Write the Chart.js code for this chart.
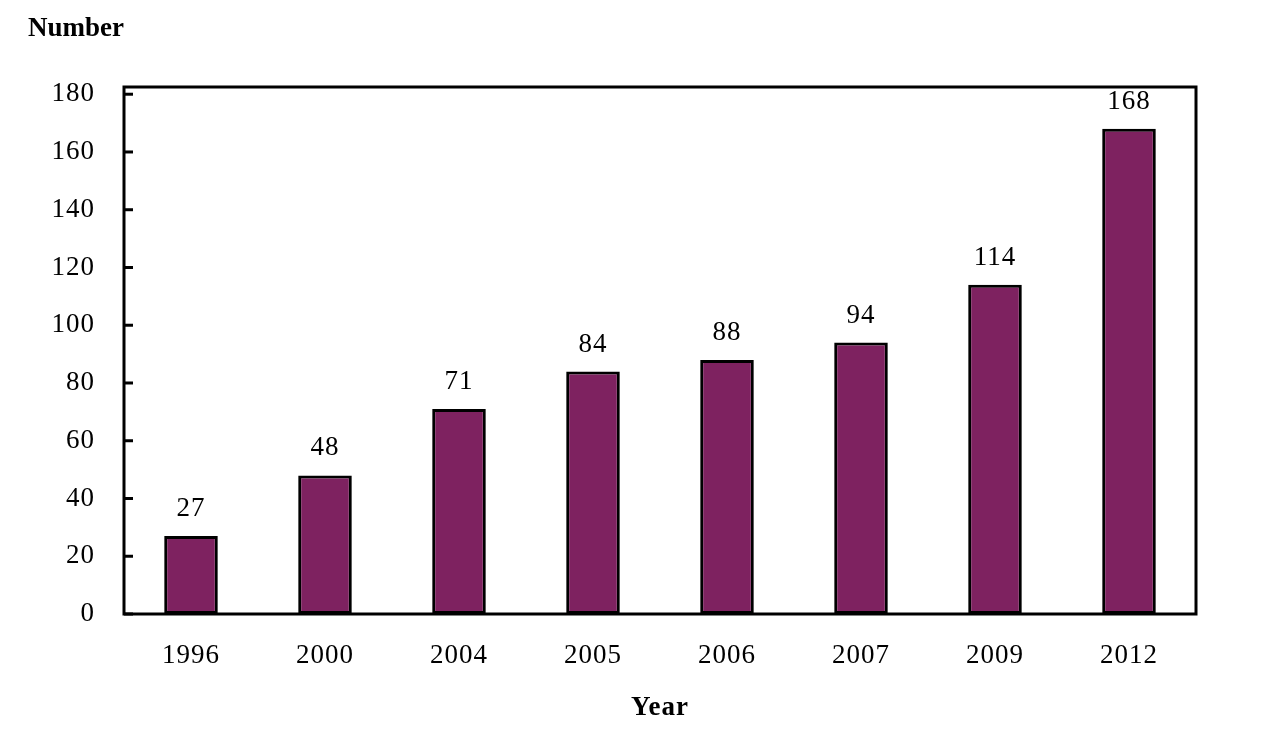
<!DOCTYPE html>
<html>
<head>
<meta charset="utf-8">
<script src="https://cdn.jsdelivr.net/npm/chart.js@4/dist/chart.umd.min.js"></script>
<style>
  html, body { margin: 0; padding: 0; background: #fff; }
  canvas { display: block; }
</style>
</head>
<body>
<canvas id="chart" width="1264" height="738"></canvas>
<script>
const years = ["1996", "2000", "2004", "2005", "2006", "2007", "2009", "2012"];
const counts = [27, 48, 71, 84, 88, 94, 114, 168];
const yTicks = [0, 20, 40, 60, 80, 100, 120, 140, 160, 180];

const serif = "'Liberation Serif', 'Times New Roman', serif";

// frame, inside tick marks, value labels and the "Number" heading
const decor = {
  id: "decor",
  beforeDraw(chart) {
    // the original text is set a bit wider than the canvas default
    chart.ctx.letterSpacing = "1px";
  },
  afterDatasetsDraw(chart) {
    const ctx = chart.ctx;
    const a = chart.chartArea;
    const y = chart.scales.y;
    ctx.save();
    ctx.strokeStyle = "#000";
    ctx.lineWidth = 3;
    ctx.strokeRect(a.left, a.top, a.right - a.left, a.bottom - a.top);
    yTicks.forEach(v => {
      const py = y.getPixelForValue(v);
      ctx.beginPath();
      ctx.moveTo(a.left, py);
      ctx.lineTo(a.left + 9, py);
      ctx.stroke();
    });

    ctx.fillStyle = "#000";
    ctx.font = "27px " + serif;
    ctx.textAlign = "center";
    ctx.textBaseline = "middle";
    chart.getDatasetMeta(0).data.forEach((bar, i) => {
      ctx.fillText(String(counts[i]), bar.x, bar.y - 27);
    });

    ctx.font = "bold 27px " + serif;
    ctx.textAlign = "left";
    ctx.letterSpacing = "0px";
    ctx.fillText("Number", 28, 29);
    ctx.restore();
  }
};

new Chart(document.getElementById("chart"), {
  type: "bar",
  data: {
    labels: years,
    datasets: [{
      data: counts,
      backgroundColor: "#7e2260",
      borderColor: "#000",
      borderWidth: 3,
      borderSkipped: false,
      barPercentage: 0.4,
      categoryPercentage: 1
    }]
  },
  options: {
    responsive: false,
    devicePixelRatio: 1,
    animation: false,
    layout: { padding: { top: 87, right: 68, left: 0, bottom: 0 } },
    plugins: { legend: { display: false }, tooltip: { enabled: false } },
    scales: {
      x: {
        grid: { display: false, drawTicks: false },
        border: { display: false },
        ticks: { color: "#000", font: { family: serif, size: 27 }, padding: 26, maxRotation: 0 },
        title: {
          display: true,
          text: "Year",
          color: "#000",
          font: { family: serif, size: 27, weight: "bold" },
          padding: { top: 0, bottom: 14 }
        },
        afterFit(scale) { scale.height = 124; }
      },
      y: {
        min: 0,
        max: 182.5,
        grid: { display: false, drawTicks: false },
        border: { display: false },
        ticks: { color: "#000", font: { family: serif, size: 27 }, padding: 29 },
        afterBuildTicks(scale) { scale.ticks = yTicks.map(v => ({ value: v })); },
        afterFit(scale) { scale.width = 124; }
      }
    }
  },
  plugins: [decor]
});
</script>
</body>
</html>
